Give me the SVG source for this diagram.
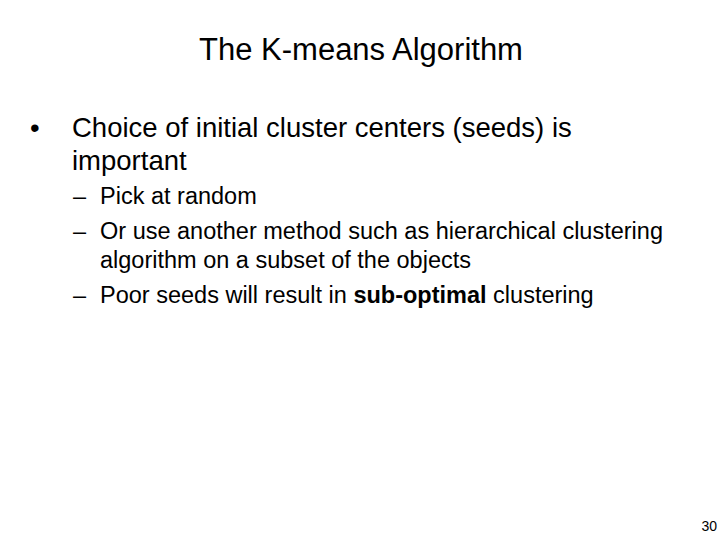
<svg xmlns="http://www.w3.org/2000/svg" width="720" height="540" viewBox="0 0 720 540">
<style>text{font-family:"Liberation Sans",Arial,sans-serif;fill:#000}.b{font-size:27.5px}.s{font-size:23.5px}</style>
<rect width="720" height="540" fill="#fff"/>
<text x="361" y="60" font-size="31" text-anchor="middle">The K-means Algorithm</text>
<text x="30" y="137" class="b">•</text>
<text x="72" y="137" class="b">Choice of initial cluster centers (seeds) is</text>
<text x="72" y="170" class="b">important</text>
<text x="73" y="204" class="s">–</text><text x="100" y="204" class="s">Pick at random</text>
<text x="73" y="239" class="s">–</text><text x="100" y="239" class="s">Or use another method such as hierarchical clustering</text>
<text x="100" y="268" class="s">algorithm on a subset of the objects</text>
<text x="73" y="303" class="s">–</text><text x="100" y="303" class="s">Poor seeds will result in <tspan font-weight="bold">sub-optimal</tspan> clustering</text>
<text x="717" y="531" font-size="14" text-anchor="end">30</text>
</svg>
